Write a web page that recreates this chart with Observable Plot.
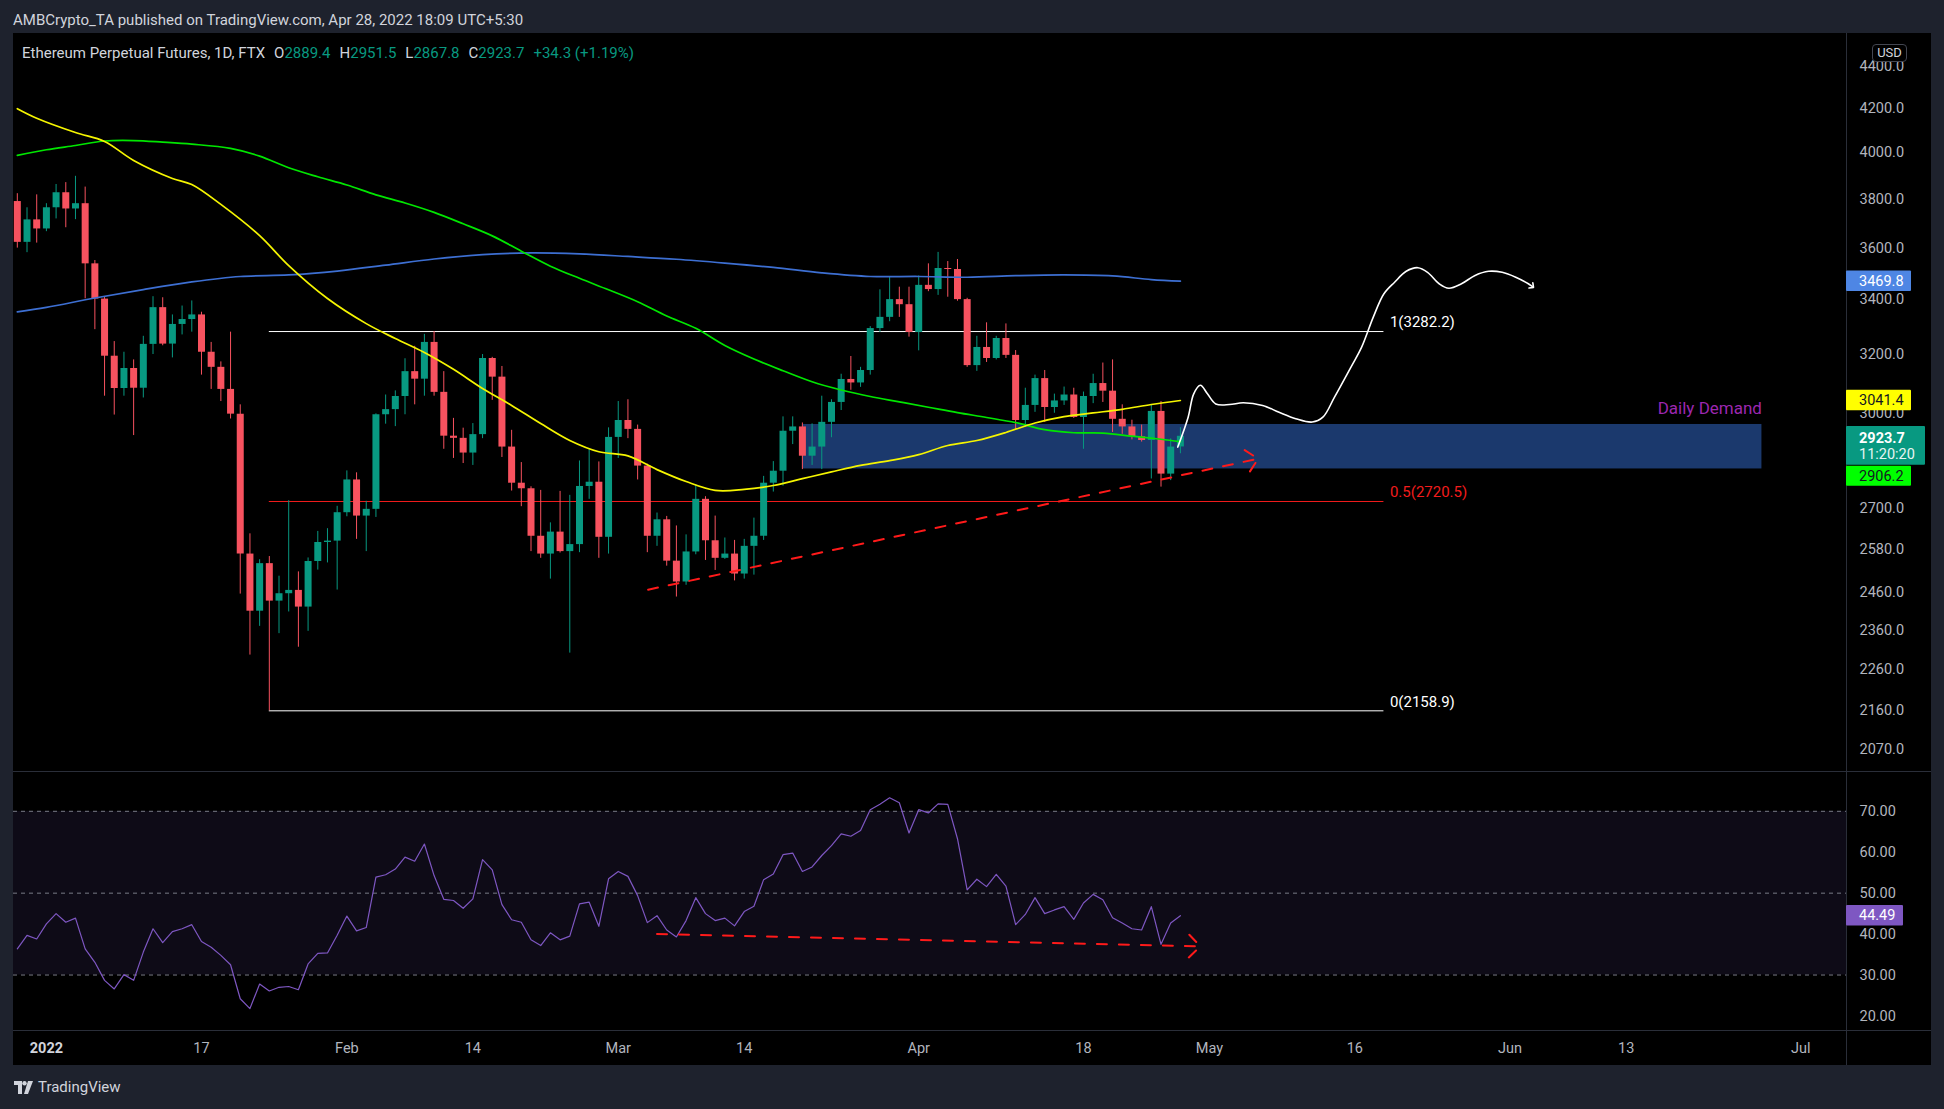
<!DOCTYPE html>
<html>
<head>
<meta charset="utf-8">
<script src="https://cdn.jsdelivr.net/npm/d3@7"></script>
<script src="https://cdn.jsdelivr.net/npm/@observablehq/plot@0.6"></script>
<style>
  html, body { margin:0; padding:0; width:1944px; height:1109px; background:#1e222d; overflow:hidden; }
  body { position:relative; font-family: Roboto, "Liberation Sans", Arial, sans-serif; }
  .abs { position:absolute; }
  #header { left:13px; top:11px; font-size:15px; color:#d1d4dc; white-space:nowrap; line-height:19px; }
  #panel { left:13px; top:33px; width:1918px; height:1032px; background:#000; }
  .sep { background:#2a2e39; }
  #legend { left:22px; top:44px; font-size:15px; color:#d1d4dc; white-space:nowrap; line-height:19px; }
  #legend .v { color:#089981; }
  #legend .g { margin-left:9px; }
  #usd { left:1872px; top:44px; width:33px; height:16px; border:1px solid #434651; border-radius:4px; background:#000; color:#d1d4dc; font-size:13px; line-height:16px; text-align:center; }
  #footer { left:14px; top:1078px; font-size:15px; color:#d1d4dc; white-space:nowrap; line-height:18px; display:flex; align-items:center; gap:4px; }
</style>
</head>
<body>
<div id="header" class="abs">AMBCrypto_TA published on TradingView.com, Apr 28, 2022 18:09 UTC+5:30</div>
<div id="panel" class="abs"></div>
<div class="abs sep" style="left:13px;top:771px;width:1918px;height:1px;"></div>
<div class="abs sep" style="left:13px;top:1030px;width:1918px;height:1px;"></div>
<div class="abs sep" style="left:1846px;top:33px;width:1px;height:1032px;"></div>
<div id="charts"></div>
<div id="legend" class="abs">Ethereum Perpetual Futures, 1D, FTX<span class="g">O<span class="v">2889.4</span></span><span class="g">H<span class="v">2951.5</span></span><span class="g">L<span class="v">2867.8</span></span><span class="g">C<span class="v">2923.7</span></span><span class="g v">+34.3 (+1.19%)</span></div>
<div id="usd" class="abs">USD</div>
<div id="footer" class="abs"><svg width="20" height="13" viewBox="0 0 20 13"><path d="M0 0h8v13H4V4H0z" fill="#d1d4dc"/><circle cx="10.5" cy="2.2" r="2.2" fill="#d1d4dc"/><path d="M14 0h5l-5 13h-4z" fill="#d1d4dc"/></svg><span>TradingView</span></div>
<script>
// ---------------- DATA ----------------
const firstDay = "2021-12-29";
const lastDay = "2022-04-28";

const open = [3789,3622,3713,
3676,3763,3826,3758,3780,3537,3402,3194,3082,3151,
3083,3236,3370,3237,3308,3326,3343,3208,3155,3079,
2996,2567,2410,2540,2437,2457,2466,2421,2546,2600,2604,
2687,2786,2677,2697,2994,3011,3055,3140,3114,3243,
3069,2924,2917,2870,2929,3186,3121,2889,2776,2759,
2618,2567,2630,2574,2594,2766,2779,2615,
2920,2975,2946,2829,2618,2666,2547,2489,2573,2727,
2605,2555,2567,2511,2589,2618,2776,2813,2940,2954,
2860,2889,2969,3035,3113,3101,3144,3293,3334,3400,3381,
3279,3454,3438,3519,3515,3400,3161,3225,3186,3257,
3197,2975,3025,3116,3018,3040,3060,2985,3055,3099,
3073,2979,2954,2922,2910,3005,2804,2889.4];

const high = [3822,3763,3817,
3780,3861,3869,3896,3850,3550,3411,3246,3208,3181,
3265,3411,3407,3343,3376,3395,3353,3243,3174,3280,
3027,2625,2551,2560,2505,2723,2517,2556,2632,2640,2706,
2814,2808,2721,2997,3060,3074,3185,3229,3272,3282.2,
3140,2982,2950,2965,3200,3190,3158,2943,2840,2765,
2754,2657,2751,2739,2845,2884,2842,2951,
3038,3044,2960,2835,2686,2676,2648,2622,2770,2735,
2677,2613,2606,2609,2671,2797,2843,2987,2987,2967,
2964,3056,3044,3131,3193,3155,3300,3437,3486,3447,3447,
3490,3537,3582,3546,3554,3405,3265,3314,3265,3310,
3214,3083,3128,3144,3063,3087,3083,3070,3131,3170,
3181,3027,2976,2960,3027,3038,2915,2951.5];

const low = [3599,3581,3619,
3665,3717,3681,3714,3403,3289,3056,2993,3056,2926,
3050,3200,3231,3188,3270,3280,3128,3079,3038,2980,
2456,2296,2370,2159,2351,2408,2316,2357,2522,2542,2467,
2675,2609,2574,2673,2963,2955,2994,3027,3056,3056,
2882,2853,2837,2831,2916,3042,2856,2752,2705,2574,
2555,2497,2570,2301,2571,2727,2555,2567,
2853,2916,2786,2571,2589,2533,2448,2480,2565,2549,
2521,2552,2492,2497,2508,2606,2749,2767,2897,2818,
2831,2818,2919,3008,3076,3086,3128,3279,3318,3334,3262,
3213,3430,3416,3409,3394,3155,3141,3172,3181,3186,
2946,2952,3002,2969,2999,3025,2982,2882,3031,3035,
2936,2930,2912,2905,2789,2764,2784,2867.8];

const close = [3622,3713,3676,
3763,3826,3758,3780,3537,3402,3194,3082,3151,3083,
3236,3370,3237,3308,3326,3343,3208,3155,3079,2996,
2567,2410,2540,2437,2457,2466,2421,2546,2600,2604,2687,
2786,2677,2697,2994,3011,3055,3140,3114,3243,3069,
2924,2917,2870,2929,3186,3121,2889,2776,2759,2618,
2567,2630,2574,2594,2766,2779,2615,2920,
2975,2946,2829,2618,2666,2547,2489,2573,2727,2605,
2555,2567,2511,2589,2618,2776,2813,2940,2954,2860,
2889,2969,3035,3113,3101,3144,3293,3334,3400,3381,3279,
3454,3438,3519,3515,3400,3161,3225,3186,3257,3197,
2975,3025,3116,3018,3040,3060,2985,3055,3099,3073,
2979,2954,2922,2910,3005,2804,2889,2923.7];

const rsiValues = [36.4,39.7,38.8,
42.5,45.0,42.9,43.9,36.4,33.1,28.7,26.6,30.1,28.7,
35.6,41.3,37.9,40.6,41.3,42.3,38.2,36.8,34.8,32.5,
24.2,21.8,27.8,26.1,27.0,27.2,26.4,32.7,35.3,35.4,39.7,
44.4,40.8,41.6,53.9,54.5,55.9,58.8,57.8,62.0,54.3,
48.5,48.2,46.3,48.6,58.2,55.7,47.2,43.5,42.9,38.6,
37.2,40.3,38.6,39.5,47.4,47.8,41.9,53.5,
55.3,54.1,49.4,42.8,44.5,41.0,39.3,43.3,48.9,45.0,
43.3,43.9,42.0,45.5,46.8,53.3,54.7,59.4,59.8,55.3,
56.4,59.2,61.6,64.5,63.9,65.3,70.4,71.7,73.3,72.1,64.7,
70.4,69.6,71.8,71.7,63.3,50.8,53.4,51.6,54.6,51.7,
42.3,44.8,48.9,45.0,45.9,46.7,43.6,47.6,49.7,48.4,
44.0,42.7,41.3,41.0,46.7,37.5,42.7,44.49];

const ma50Dates = ["2021-12-29","2021-12-31","2022-01-04","2022-01-07","2022-01-10","2022-01-14","2022-01-16","2022-01-19","2022-01-23","2022-01-26","2022-01-30","2022-02-03","2022-02-06","2022-02-09","2022-02-12","2022-02-15","2022-02-18","2022-02-21","2022-02-24","2022-02-27","2022-03-02","2022-03-05","2022-03-08","2022-03-11","2022-03-14","2022-03-17","2022-03-20","2022-03-23","2022-03-26","2022-03-29","2022-04-01","2022-04-04","2022-04-07","2022-04-10","2022-04-13","2022-04-16","2022-04-19","2022-04-22","2022-04-25","2022-04-28"];
const ma50Values = [4198,4154,4089,4049,3965,3887,3861,3777,3649,3530,3404,3311,3257,3207,3148,3082,3025,2965,2910,2874,2861,2818,2781,2754,2757,2769,2790,2811,2831,2846,2865,2894,2910,2936,2967,2988,3000,3012,3028,3041.4];

const ma100Dates = ["2021-12-29","2022-01-01","2022-01-04","2022-01-07","2022-01-10","2022-01-13","2022-01-16","2022-01-20","2022-01-23","2022-01-26","2022-01-29","2022-02-01","2022-02-04","2022-02-07","2022-02-10","2022-02-13","2022-02-16","2022-02-19","2022-02-22","2022-02-25","2022-02-28","2022-03-03","2022-03-06","2022-03-09","2022-03-12","2022-03-15","2022-03-18","2022-03-21","2022-03-24","2022-03-27","2022-03-30","2022-04-02","2022-04-05","2022-04-08","2022-04-11","2022-04-14","2022-04-17","2022-04-20","2022-04-23","2022-04-26","2022-04-28"];
const ma100Values = [3987,4012,4031,4051,4053,4046,4037,4018,3984,3933,3894,3859,3817,3783,3744,3697,3648,3587,3528,3481,3437,3392,3339,3294,3232,3184,3143,3105,3077,3055,3037,3019,3001,2985,2968,2945,2935,2934,2924,2914,2906.2];

const ma200Dates = ["2021-12-29","2022-01-01","2022-01-06","2022-01-11","2022-01-16","2022-01-21","2022-01-26","2022-01-31","2022-02-05","2022-02-10","2022-02-15","2022-02-20","2022-02-25","2022-03-02","2022-03-07","2022-03-12","2022-03-17","2022-03-22","2022-03-27","2022-04-01","2022-04-06","2022-04-11","2022-04-16","2022-04-21","2022-04-25","2022-04-28"];
const ma200Values = [3354,3371,3406,3438,3467,3488,3494,3509,3532,3556,3573,3580,3576,3566,3555,3540,3523,3502,3488,3488,3485,3491,3494,3490,3476,3469.8];

const fibLabels = ["1(3282.2)","0.5(2720.5)","0(2158.9)"];
const fibPrices = [3282.2, 2720.5, 2158.9];
const fibColors = ["#ffffff", "#f21c1c", "#ffffff"];
const fibStart = "2022-01-24";
const fibEnd = "2022-05-19";

const demandStart = "2022-03-20";
const demandEnd = "2022-06-27";
const demandTop = 2962;
const demandBottom = 2820;
const demandLabel = "Daily Demand";

const priceTrendDates = ["2022-03-04T02:00Z", "2022-05-06T00:30Z"];
const priceTrendValues = [2468, 2852];
const rsiTrendDates = ["2022-03-05T00:00Z", "2022-04-30T01:30Z"];
const rsiTrendValues = [40.0, 37.0];

const pathDates = ["2022-04-27T17:30Z","2022-04-28T19:12Z","2022-04-29T09:00Z","2022-04-30T01:30Z","2022-04-30T19:00Z","2022-05-01T15:36Z","2022-05-03T01:40Z","2022-05-04T11:45Z","2022-05-06T11:30Z","2022-05-08T04:20Z","2022-05-09T21:36Z","2022-05-11T14:24Z","2022-05-12T16:48Z","2022-05-13T21:36Z","2022-05-15T14:24Z","2022-05-16T16:48Z","2022-05-17T21:36Z","2022-05-19T00:00Z","2022-05-20T02:24Z","2022-05-21T07:12Z","2022-05-22T12:00Z","2022-05-23T12:00Z","2022-05-24T16:48Z","2022-05-25T16:48Z","2022-05-27T00:00Z","2022-05-28T09:36Z","2022-05-29T19:12Z","2022-05-31T04:48Z","2022-06-01T14:24Z","2022-06-02T21:36Z","2022-06-03T07:12Z"];
const pathValues = [2889,2986,3064,3093,3064,3030,3028,3034,3025,3002,2981,2970,2986,3053,3156,3226,3335,3422,3466,3508,3522,3504,3460,3443,3460,3492,3508,3504,3485,3460,3450];

const priceTicks = [4400,4200,4000,3800,3600,3400,3200,3000,2700,2580,2460,2360,2260,2160,2070];
const rsiTicks = [70,60,50,40,30,20];
const rsiLevels = [70,50,30];
const timeTickDates = ["2022-01-01","2022-01-17","2022-02-01","2022-02-14","2022-03-01","2022-03-14","2022-04-01","2022-04-18","2022-05-01","2022-05-16","2022-06-01","2022-06-13","2022-07-01"];
const timeTickLabels = ["2022","17","Feb","14","Mar","14","Apr","18","May","16","Jun","13","Jul"];

const lastClose = 2923.7, countdown = "11:20:20";
const lastMA50 = 3041.4, lastMA100 = 2906.2, lastMA200 = 3469.8, lastRSI = 44.49;

// ---------------- BUILD ----------------
const FONT = "Roboto, 'Liberation Sans', Arial, sans-serif";
const UP = "#089981", DOWN = "#f7525f";
const D = s => new Date(s.length === 10 ? s + "T00:00:00Z" : s);
const days = d3.utcDay.range(D(firstDay), d3.utcDay.offset(D(lastDay), 1));
const candles = days.map((date, i) => ({date, o: open[i], h: high[i], l: low[i], c: close[i]}));
const candleColor = d => d.c >= d.o ? UP : DOWN;
const series = (ds, vs) => ds.map((d, i) => ({date: D(d), v: vs[i]}));
const ma50 = series(ma50Dates, ma50Values);
const ma100 = series(ma100Dates, ma100Values);
const ma200 = series(ma200Dates, ma200Values);
const rsi = days.map((date, i) => ({date, v: rsiValues[i]}));
const path = series(pathDates, pathValues);
const fibs = fibPrices.map((p, i) => ({price: p, label: fibLabels[i], color: fibColors[i]}));
const timeTicks = timeTickDates.map((d, i) => ({date: D(d), label: timeTickLabels[i]}));

const X = {type: "utc", domain: [D("2022-01-01"), D("2022-07-01")], range: [45.9, 1800.2], axis: null};
const svgStyle = top => ({background: "transparent", position: "absolute", left: "0px", top: top + "px", fontFamily: FONT, overflow: "visible", maxWidth: "none"});

const main = Plot.plot({
  width: 1944, height: 771,
  marginTop: 33, marginBottom: 0, marginLeft: 13, marginRight: 98,
  style: svgStyle(0),
  color: {type: "identity"},
  x: X,
  y: {type: "log", domain: [2070, 4200], range: [748.4, 107.8], axis: null},
  marks: [
    Plot.rect([0], {x1: () => D(demandStart), x2: () => D(demandEnd), y1: () => demandBottom, y2: () => demandTop, fill: "#1b396d", clip: true}),
    Plot.ruleY(fibs, {y: "price", x1: () => D(fibStart), x2: () => D(fibEnd), stroke: "color", strokeWidth: 1}),
    Plot.text(fibs, {x: () => D(fibEnd), y: "price", text: "label", fill: "color", textAnchor: "start", dx: 6, dy: -9, fontSize: 15}),
    Plot.text([demandLabel], {x: () => D(demandEnd), y: () => demandTop, text: d => d, textAnchor: "end", dy: -16, fill: "#9c27b0", fontSize: 17}),
    Plot.ruleX(candles, {x: "date", y1: "l", y2: "h", stroke: candleColor, strokeWidth: 1, clip: true}),
    Plot.ruleX(candles, {x: "date", y1: "o", y2: "c", stroke: candleColor, strokeWidth: 7, clip: true}),
    Plot.line(ma200, {x: "date", y: "v", stroke: "#3d6fd2", strokeWidth: 1.7, curve: "catmull-rom", clip: true}),
    Plot.line(ma100, {x: "date", y: "v", stroke: "#00e600", strokeWidth: 1.7, curve: "catmull-rom", clip: true}),
    Plot.line(ma50, {x: "date", y: "v", stroke: "#f5f500", strokeWidth: 1.7, curve: "catmull-rom", clip: true}),
    Plot.arrow([0], {x1: () => D(priceTrendDates[0]), y1: () => priceTrendValues[0], x2: () => D(priceTrendDates[1]), y2: () => priceTrendValues[1], stroke: "#ff1a1a", strokeWidth: 2, strokeDasharray: "10,11", headLength: 12, headAngle: 90}),
    Plot.line(path, {x: "date", y: "v", stroke: "#ffffff", strokeWidth: 1.6, curve: "catmull-rom", markerEnd: "arrow"}),
    Plot.text(priceTicks, {y: d => d, text: d => d.toFixed(1), frameAnchor: "right", textAnchor: "start", dx: 13, fill: "#b2b5be", fontSize: 14.5})
  ]
});

const rsiChart = Plot.plot({
  width: 1944, height: 294,
  marginTop: 0, marginBottom: 35, marginLeft: 13, marginRight: 98,
  style: svgStyle(771),
  x: X,
  y: {domain: [20, 70], range: [244.45, 39.8], axis: null},
  marks: [
    Plot.rect([0], {x1: () => D("2021-12-15"), x2: () => D("2022-07-20"), y1: () => 30, y2: () => 70, fill: "#0e0b17", clip: true}),
    Plot.ruleY(rsiLevels, {stroke: "#787b86", strokeDasharray: "4,4", strokeWidth: 1}),
    Plot.line(rsi, {x: "date", y: "v", stroke: "#7e57c2", strokeWidth: 1.2, clip: true}),
    Plot.arrow([0], {x1: () => D(rsiTrendDates[0]), y1: () => rsiTrendValues[0], x2: () => D(rsiTrendDates[1]), y2: () => rsiTrendValues[1], stroke: "#ff1a1a", strokeWidth: 2, strokeDasharray: "10,12", headLength: 12, headAngle: 90}),
    Plot.text(rsiTicks, {y: d => d, text: d => d.toFixed(2), frameAnchor: "right", textAnchor: "start", dx: 13, fill: "#b2b5be", fontSize: 14.5}),
    Plot.text(timeTicks.filter(d => d.label !== "2022"), {x: "date", text: "label", frameAnchor: "bottom", dy: 22, fill: "#b2b5be", fontSize: 14.5}),
    Plot.text(timeTicks.filter(d => d.label === "2022"), {x: "date", text: "label", frameAnchor: "bottom", dy: 22, fill: "#d1d4dc", fontSize: 14.5, fontWeight: "bold"})
  ]
});

const charts = document.getElementById("charts");
charts.appendChild(main);
charts.appendChild(rsiChart);

// price-scale tags positioned through the plots' own scales
function tag(svg, cy, h, w, fill, lines) {
  const g = d3.select(svg).append("g").attr("font-family", FONT).attr("text-anchor", "start");
  g.append("rect").attr("x", 1846).attr("y", cy - h / 2).attr("width", w).attr("height", h).attr("fill", fill).attr("rx", 1);
  lines.forEach(l => {
    g.append("text").attr("x", 1859).attr("y", l.y).attr("dy", "0.35em").attr("text-anchor", "start")
      .attr("fill", l.color).attr("font-size", 14.5).attr("font-weight", l.bold ? "bold" : "normal").text(l.text);
  });
}
const sy = main.scale("y");
const yB = sy.apply(lastMA200);
tag(main, yB, 20.5, 65, "#4e86e4", [{y: yB, text: lastMA200.toFixed(1), color: "#ffffff"}]);
const yY = sy.apply(lastMA50);
tag(main, yY, 20.5, 65, "#ffff00", [{y: yY, text: lastMA50.toFixed(1), color: "#131722"}]);
const yC = sy.apply(lastClose);
tag(main, yC + 9.6, 38.7, 79, "#089981", [{y: yC + 2, text: lastClose.toFixed(1), color: "#ffffff", bold: true}, {y: yC + 18.5, text: countdown, color: "#e6f4f1"}]);
const yG = yC + 9.6 + 38.7 / 2 + 1 + 10;
tag(main, yG, 20, 65, "#00ff00", [{y: yG, text: lastMA100.toFixed(1), color: "#131722"}]);
const yR = rsiChart.scale("y").apply(lastRSI);
tag(rsiChart, yR, 20.5, 57, "#7e57c2", [{y: yR, text: lastRSI.toFixed(2), color: "#ffffff"}]);
</script>
</body>
</html>
